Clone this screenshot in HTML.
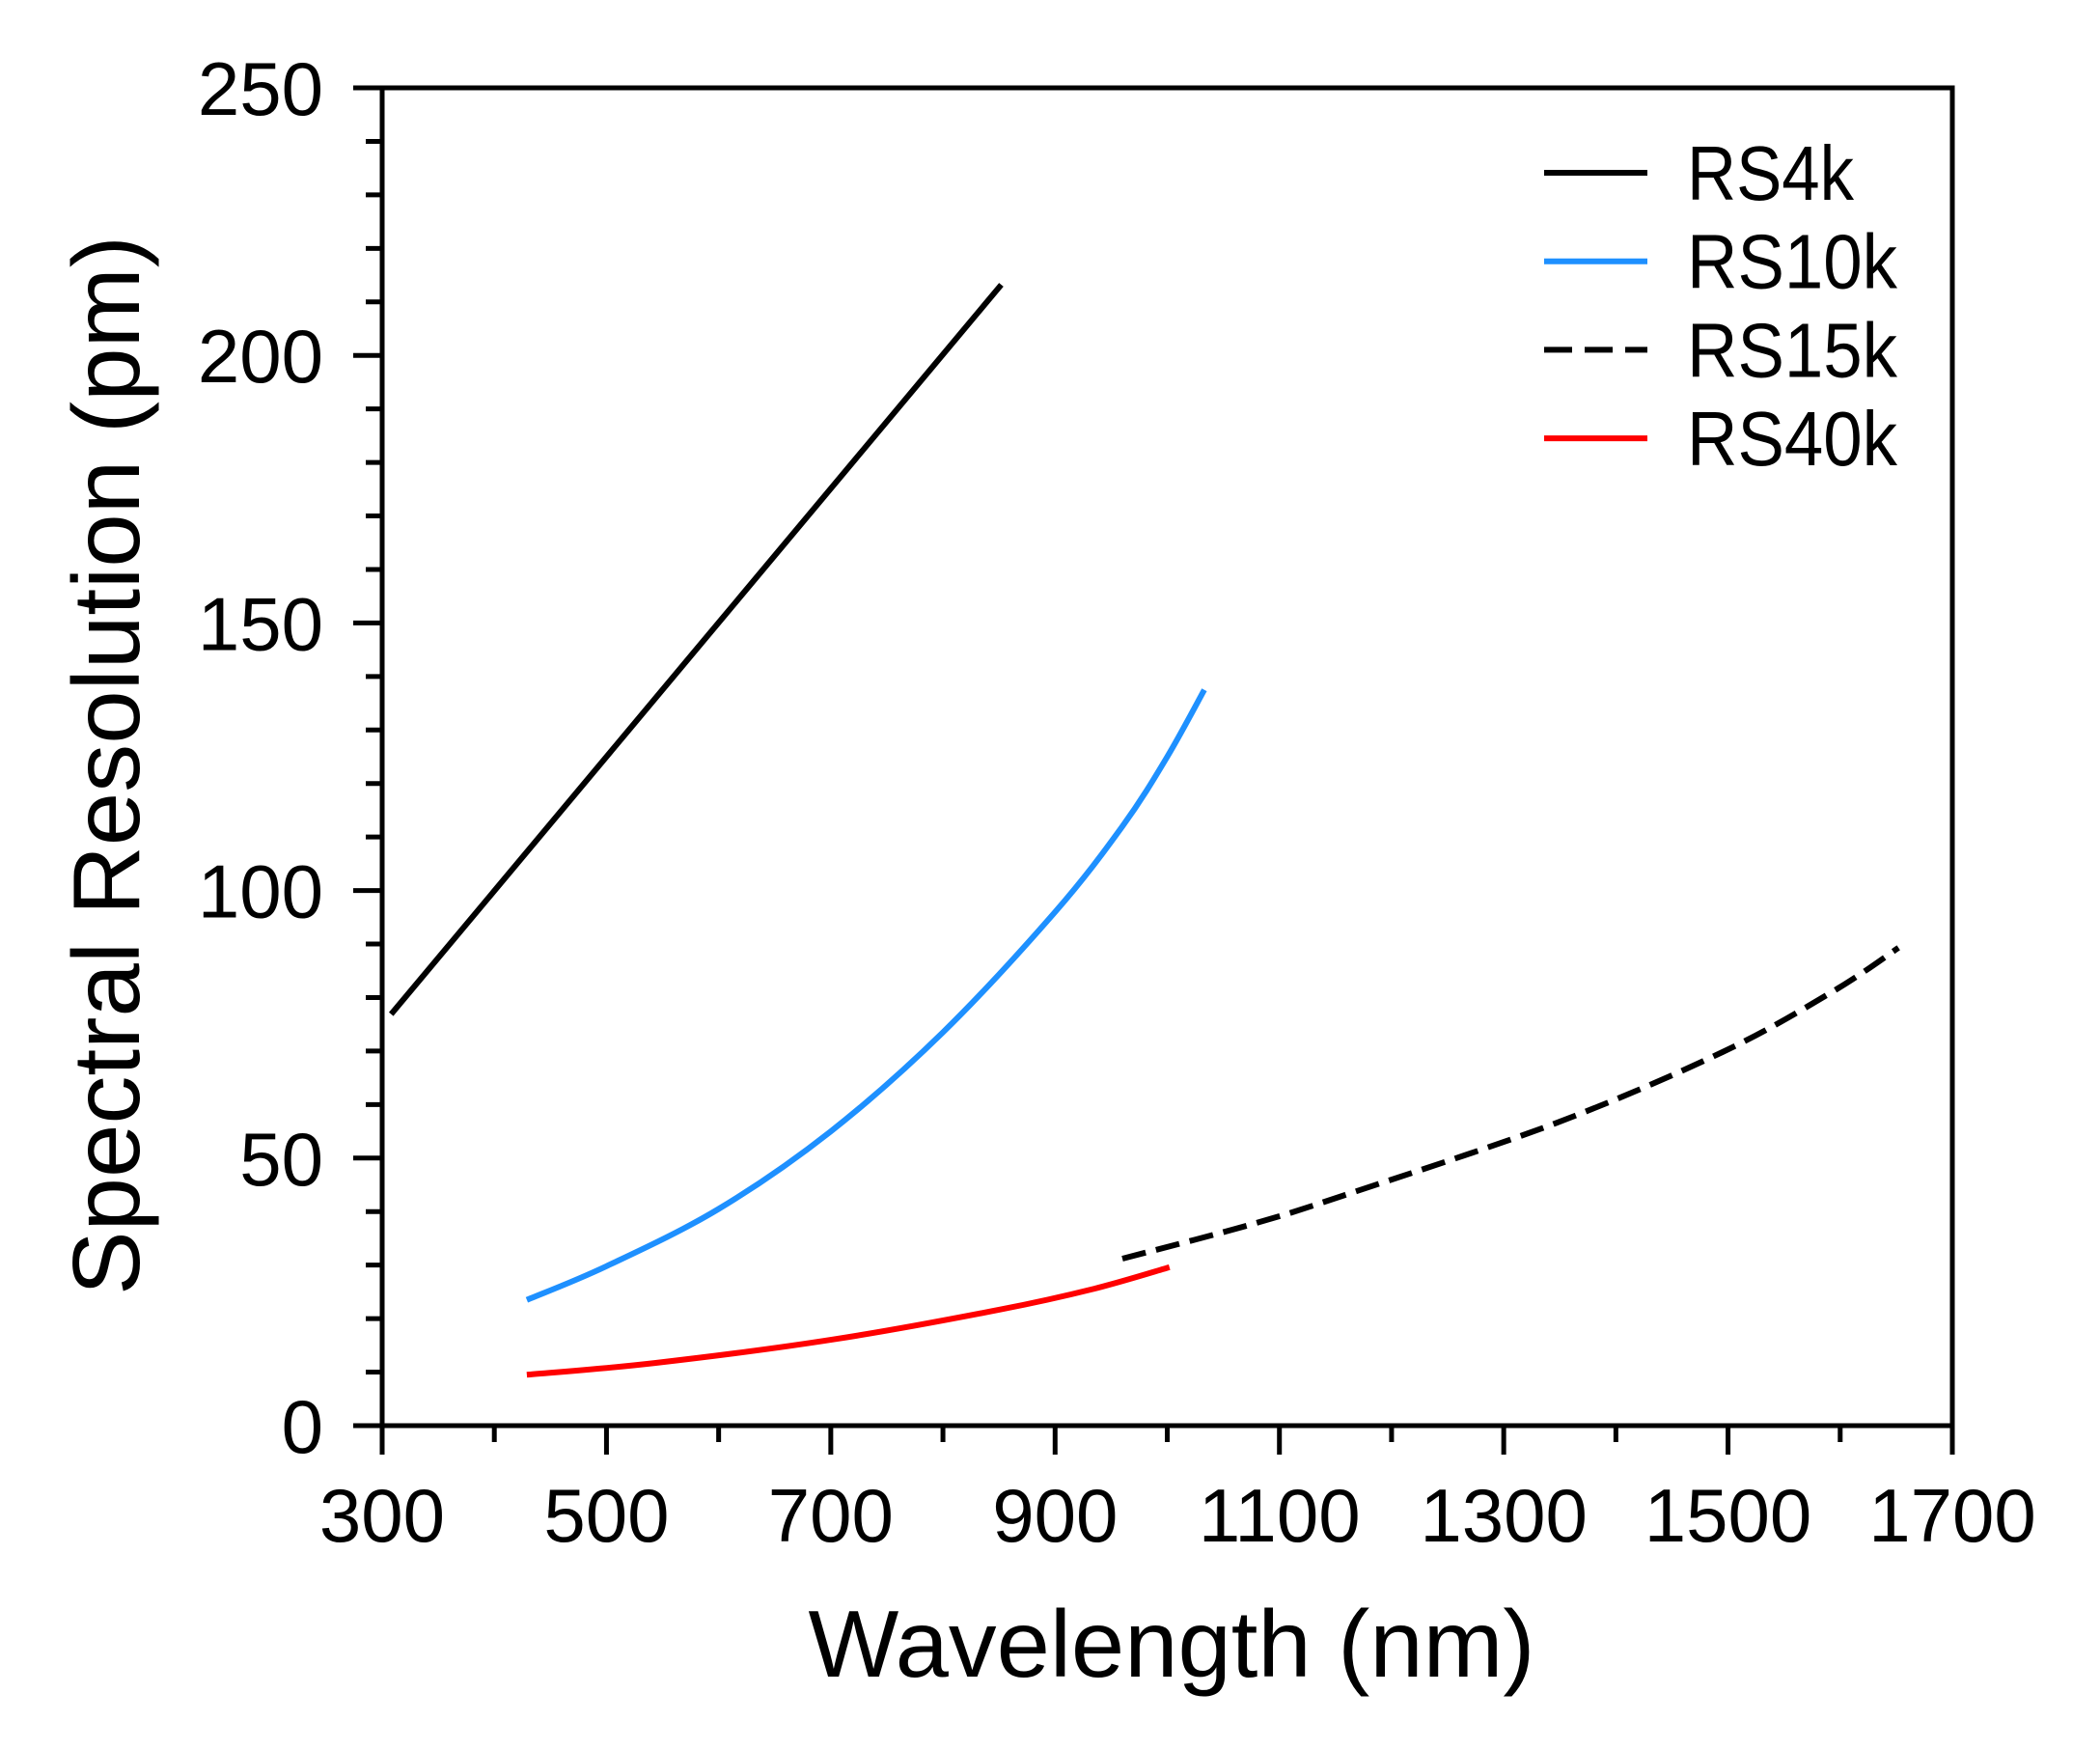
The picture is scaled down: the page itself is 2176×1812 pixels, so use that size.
<!DOCTYPE html>
<html><head><meta charset="utf-8"><style>
html,body{margin:0;padding:0;background:#fff;}
svg{display:block;}
text{font-family:"Liberation Sans",sans-serif;fill:#000;}
</style></head><body>
<svg id="chart" width="2176" height="1812" viewBox="0 0 2176 1812" xmlns="http://www.w3.org/2000/svg">
<g id="plot"></g>
</svg>
<script>
const xTicks = [300, 500, 700, 900, 1100, 1300, 1500, 1700];
const yTicks = [0, 50, 100, 150, 200, 250];
const seriesNames = ["RS4k", "RS10k", "RS15k", "RS40k"];
const rs4kWl = [308, 852];
const rs4kVal = [76.9, 213.2];
const rs10kWl = [429, 500, 600, 700, 800, 900, 960, 1000, 1033];
const rs10kVal = [23.5, 29.8, 40.5, 55.0, 73.5, 96.0, 112.0, 125.0, 137.5];
const rs15kWl = [960, 1075, 1157, 1346, 1495, 1594, 1652];
const rs15kVal = [31.2, 37.6, 43.0, 56.5, 69.8, 81.2, 89.3];
const rs40kWl = [429, 543, 702, 851, 935, 1002];
const rs40kVal = [9.5, 11.7, 16.1, 21.7, 25.6, 29.6];

const NS = "http://www.w3.org/2000/svg";
const L = 396, R = 2023, T = 91, B = 1477;
const xMin = 300, xMax = 1700, yMin = 0, yMax = 250;
function xs(v){ return L + (v - xMin) / (xMax - xMin) * (R - L); }
function ys(v){ return B - (v - yMin) / (yMax - yMin) * (B - T); }
const g = document.getElementById('plot');
function mk(tag, attrs){ const e = document.createElementNS(NS, tag); for (const k in attrs) e.setAttribute(k, attrs[k]); g.appendChild(e); return e; }

function series(wl, val, color, dash, name){
  const p = wl.map((w, i) => [xs(w), ys(val[i])]);
  let d = 'M' + p[0][0].toFixed(1) + ',' + p[0][1].toFixed(1);
  for (let i = 0; i < p.length - 1; i++) {
    const p0 = p[Math.max(0, i - 1)], p1 = p[i], p2 = p[i + 1], p3 = p[Math.min(p.length - 1, i + 2)];
    const c1 = [p1[0] + (p2[0] - p0[0]) / 6, p1[1] + (p2[1] - p0[1]) / 6];
    const c2 = [p2[0] - (p3[0] - p1[0]) / 6, p2[1] - (p3[1] - p1[1]) / 6];
    d += 'C' + c1[0].toFixed(1) + ',' + c1[1].toFixed(1) + ' ' + c2[0].toFixed(1) + ',' + c2[1].toFixed(1) + ' ' + p2[0].toFixed(1) + ',' + p2[1].toFixed(1);
  }
  const e = mk('path', {d: d, fill: 'none', stroke: color, 'stroke-width': 6, 'stroke-linejoin': 'round'});
  if (dash) e.setAttribute('stroke-dasharray', '25,11');
  
  
}
series(rs4kWl, rs4kVal, '#000', false, 'rs4k-line');
series(rs10kWl, rs10kVal, '#1E90FF', false, 'rs10k-line');
series(rs15kWl, rs15kVal, '#000', true, 'rs15k-line');
series(rs40kWl, rs40kVal, '#FF0000', false, 'rs40k-line');

const fr = mk('rect', {x: L, y: T, width: R - L, height: B - T, fill: 'none', stroke: '#000', 'stroke-width': 5});



for (let v = xMin; v <= xMax; v += 100) {
  const major = xTicks.indexOf(v) >= 0;
  const t = mk('line', {x1: xs(v), x2: xs(v), y1: B, y2: B + (major ? 30 : 17), stroke: '#000', 'stroke-width': 5});
  
  
}
xTicks.forEach(v => {
  const t = mk('text', {x: xs(v), y: 1597, 'font-size': 78, 'text-anchor': 'middle'});
  t.textContent = v;
  
  
});
for (let v = yMin; v <= yMax; v += 10) {
  const major = yTicks.indexOf(v) >= 0;
  const t = mk('line', {x1: L - (major ? 30 : 17), x2: L, y1: ys(v), y2: ys(v), stroke: '#000', 'stroke-width': 5});
  
  
}
yTicks.forEach(v => {
  const t = mk('text', {x: 335, y: ys(v) + 28, 'font-size': 78, 'text-anchor': 'end'});
  t.textContent = v;
  
  
});

const xt = mk('text', {x: 1214, y: 1737, 'font-size': 98, 'text-anchor': 'middle', textLength: 753, lengthAdjust: 'spacingAndGlyphs'});
xt.textContent = 'Wavelength (nm)';


const yt = mk('text', {x: 0, y: 0, 'font-size': 98, 'text-anchor': 'middle', textLength: 1098, lengthAdjust: 'spacingAndGlyphs', transform: 'translate(144,793) rotate(-90)'});
yt.textContent = 'Spectral Resolution (pm)';



const legColors = ['#000', '#1E90FF', '#000', '#FF0000'];
const legDash = [false, false, true, false];
const legLens = [173, 218, 218, 218];
seriesNames.forEach((n, i) => {
  const y = 179 + i * 91.7;
  const ln = mk('line', {x1: 1600, x2: 1707, y1: y, y2: y, stroke: legColors[i], 'stroke-width': 6});
  if (legDash[i]) ln.setAttribute('stroke-dasharray', '29,13');
  
  
  const tx = mk('text', {x: 1748, y: y + 28, 'font-size': 80, textLength: legLens[i], lengthAdjust: 'spacingAndGlyphs'});
  tx.textContent = n;
  
  
});
</script>
</body></html>
